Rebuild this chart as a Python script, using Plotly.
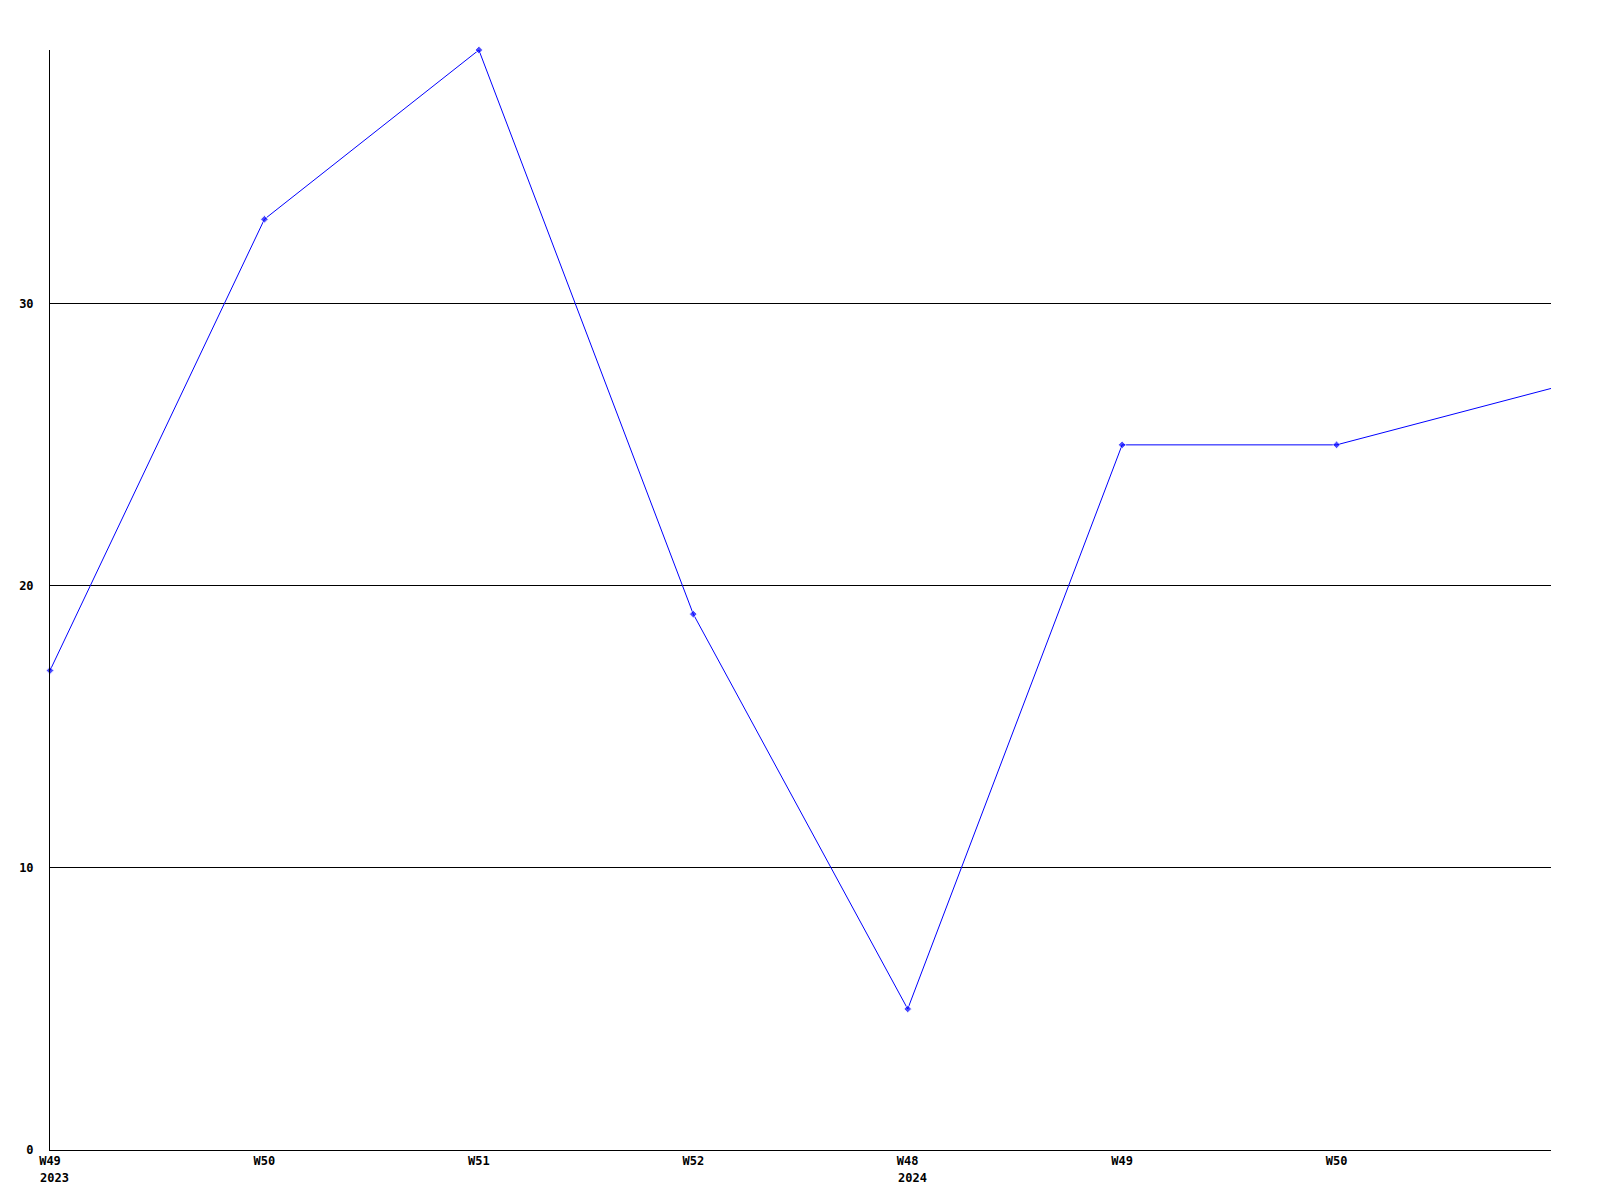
import plotly.graph_objects as go

weeks = ["W49", "W50", "W51", "W52", "W48", "W49", "W50", "W51"]
years = {0: "2023", 4: "2024"}
values = [17, 33, 39, 19, 5, 25, 25, 27]
y_ticks = [0, 10, 20, 30]

x = list(range(len(values)))
font = dict(family="DejaVu Sans Mono", size=12, color="black", weight="bold")

fig = go.Figure()
fig.add_trace(go.Scatter(
    x=x, y=values, mode="lines+markers",
    line=dict(color="#0000ff", width=1),
    marker=dict(symbol="diamond", size=[6] * (len(values) - 1) + [0], color="#0000ff"),
    cliponaxis=False, showlegend=False, hoverinfo="skip",
))

for i, yr in years.items():
    fig.add_annotation(x=i, y=0, xref="x", yref="paper", text=yr, showarrow=False,
                       xanchor="left", yanchor="top", xshift=-12, yshift=-19,
                       font=font)

fig.update_layout(
    width=1584, height=1184,
    margin=dict(l=42, r=41, t=42, b=42, autoexpand=False),
    paper_bgcolor="white", plot_bgcolor="white",
    font=font,
)
fig.update_xaxes(
    range=[0, 7], tickvals=x[:-1], ticktext=weeks[:-1],
    showgrid=False, zeroline=False, showline=True, linecolor="black", linewidth=1,
    ticks="", tickfont=font, automargin=False,
)
fig.update_yaxes(
    range=[0, 39], tickvals=y_ticks,
    showgrid=True, gridcolor="black", gridwidth=1, zeroline=False,
    showline=True, linecolor="black", linewidth=1, ticks="", ticklabelstandoff=13,
    tickfont=font, automargin=False,
)
fig.write_html("out.html")
